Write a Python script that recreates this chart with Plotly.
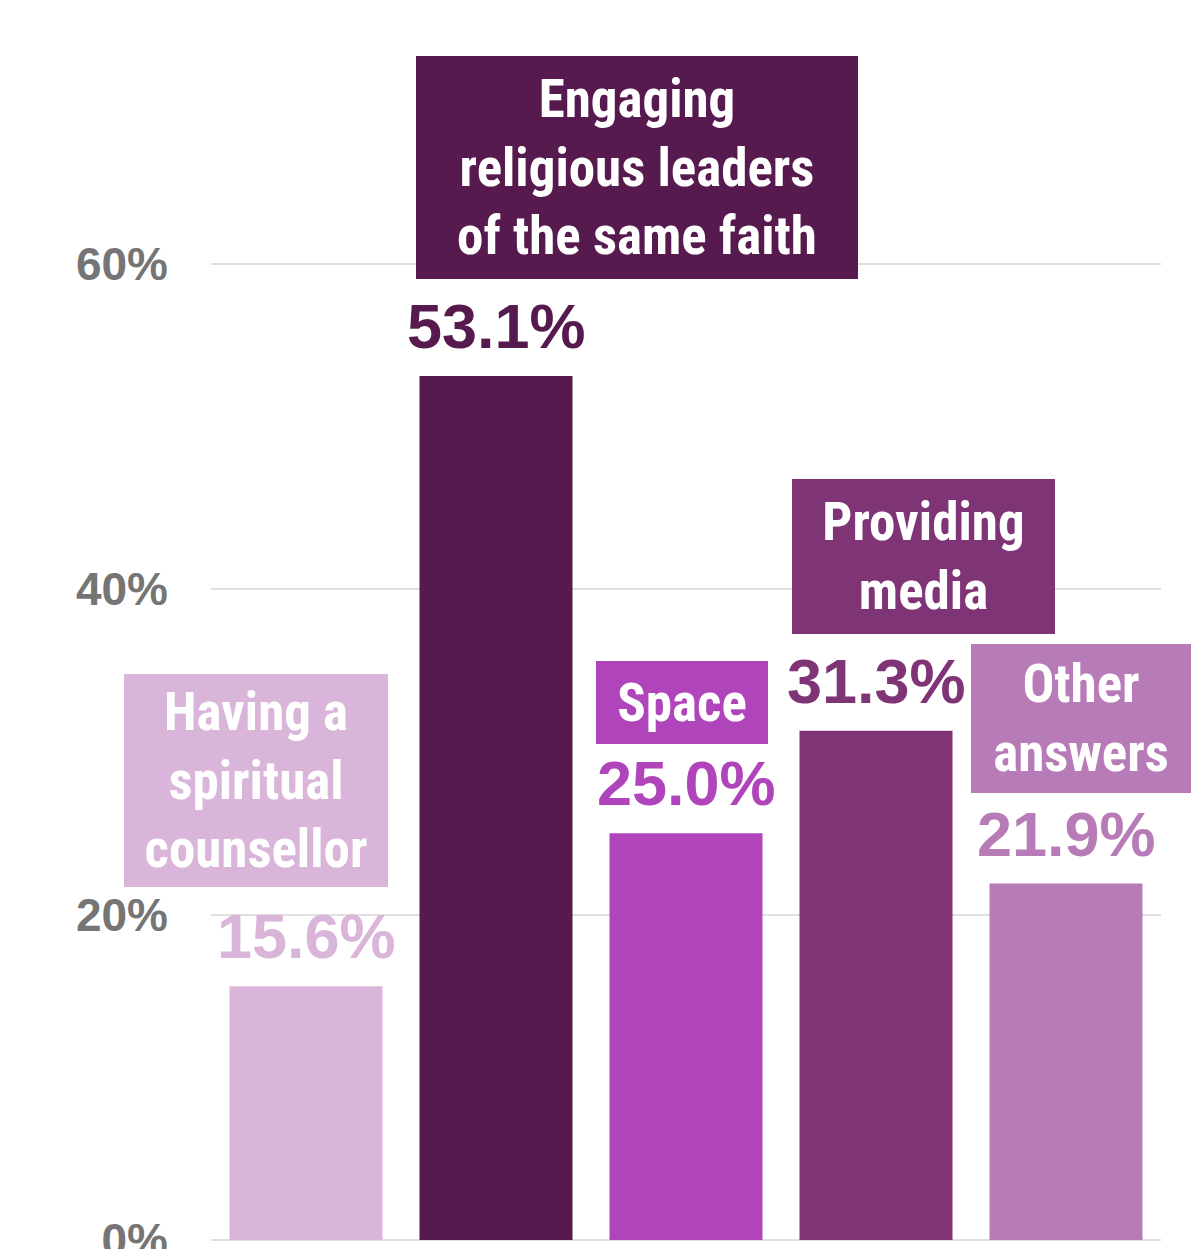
import plotly.graph_objects as go

categories = ["Having a spiritual counsellor", "Engaging religious leaders of the same faith",
              "Space", "Providing media", "Other answers"]
box_labels = ["Having a<br>spiritual<br>counsellor", "Engaging<br>religious leaders<br>of the same faith",
              "Space", "Providing<br>media", "Other<br>answers"]
values = [15.6, 53.1, 25.0, 31.3, 21.9]
colors = ["#D9B6D9", "#561A4F", "#B044BA", "#7F3575", "#B77BB8"]
tick_vals = [0, 20, 40, 60]
tick_text = ["0%", "20%", "40%", "60%"]

# label box layout (pixel offsets / sizes)
box_xshift = [-50, 141, -4, 47, 15]
box_yshift = [99, 97, 89, 97, 91]
box_w = [264, 442, 172, 263, 220]
box_h = [213, 223, 83, 155, 149]

NARROW = "Roboto Condensed, Liberation Sans Narrow, Liberation Sans, sans-serif"
BOLD = "Liberation Sans, Arial, sans-serif"

fig = go.Figure(go.Bar(
    x=categories, y=values, marker=dict(color=colors, line=dict(width=0)),
    hoverinfo="skip",
))

for i, (c, v, col) in enumerate(zip(categories, values, colors)):
    fig.add_annotation(x=c, y=v, xref="x", yref="y", text=f"{v:.1f}%",
                       showarrow=False, yanchor="bottom", yshift=13,
                       font=dict(family=BOLD, size=63, color=col, weight=700))
    fig.add_annotation(x=c, y=v, xref="x", yref="y", text=box_labels[i],
                       showarrow=False, yanchor="bottom", xanchor="center",
                       xshift=box_xshift[i], yshift=box_yshift[i],
                       width=box_w[i], height=box_h[i], bgcolor=col,
                       borderpad=0, borderwidth=0, align="center", valign="middle",
                       font=dict(family=NARROW, size=53, color="white", weight=700))

fig.update_layout(
    width=1192, height=1249,
    margin=dict(l=211, r=31, t=0, b=9, autoexpand=False),
    paper_bgcolor="white", plot_bgcolor="white",
    bargap=37 / 190,
    showlegend=False,
    xaxis=dict(showticklabels=False, showgrid=False, zeroline=False, showline=False,
               range=[-0.5, 4.5], automargin=False),
    yaxis=dict(range=[0, 76.2], tickvals=tick_vals, ticktext=tick_text,
               showgrid=True, gridcolor="#E0E0E0", gridwidth=2,
               zeroline=True, zerolinecolor="#E0E0E0", zerolinewidth=2,
               ticks="", ticklabelstandoff=42, ticklabeloverflow="allow",
               automargin=False,
               tickfont=dict(family=BOLD, size=46, color="#757575", weight=700)),
)

fig.write_html("out.html")
